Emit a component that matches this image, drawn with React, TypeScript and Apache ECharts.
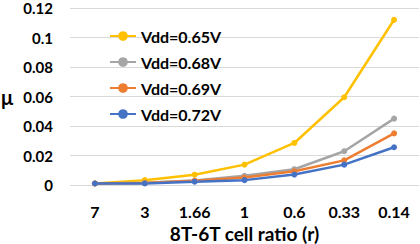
import React, { useEffect, useRef } from "react";
import * as echarts from "echarts";

const categories = ["7", "3", "1.66", "1", "0.6", "0.33", "0.14"];
const seriesNames = ["Vdd=0.65V", "Vdd=0.68V", "Vdd=0.69V", "Vdd=0.72V"];
const vdd065 = [0.0011, 0.0033, 0.007, 0.0138, 0.0285, 0.0595, 0.112];
const vdd068 = [0.001, 0.0015, 0.003, 0.0062, 0.0107, 0.0229, 0.045];
const vdd069 = [0.001, 0.0013, 0.0028, 0.0051, 0.0093, 0.0167, 0.035];
const vdd072 = [0.001, 0.001, 0.0022, 0.0033, 0.0071, 0.0138, 0.0256];
const colors = ["#FFC000", "#A5A5A5", "#ED7D31", "#4472C4"];

export default function App() {
  const ref = useRef<HTMLDivElement>(null);
  useEffect(() => {
    const chart = echarts.init(ref.current!, null, { renderer: "svg" });
    const data = [vdd065, vdd068, vdd069, vdd072];
    const font = "Lato, 'Open Sans', sans-serif";
    chart.setOption({
      animation: false,
      grid: { left: 70, right: 1, top: 8, bottom: 59, containLabel: false, outerBoundsMode: "none" },
      legend: {
        orient: "vertical",
        left: 104,
        top: 23,
        itemWidth: 26,
        itemHeight: 12,
        itemGap: 10,
        data: seriesNames,
        textStyle: { fontFamily: font, fontWeight: "bold", fontSize: 16, color: "#000" },
      },
      xAxis: {
        type: "category",
        data: categories,
        boundaryGap: true,
        axisLine: { show: false },
        axisTick: { show: false },
        axisLabel: { fontFamily: font, fontWeight: "bold", fontSize: 16, color: "#000", margin: 18 },
        name: "8T-6T cell ratio (r)",
        nameLocation: "middle",
        nameGap: 37,
        nameTextStyle: { fontFamily: font, fontWeight: "bold", fontSize: 19, lineHeight: 18, color: "#000" },
      },
      yAxis: {
        type: "value",
        min: 0,
        max: 0.12,
        interval: 0.02,
        axisLine: { show: false },
        axisTick: { show: false },
        splitLine: { lineStyle: { color: "#d9d9d9", width: 1 } },
        axisLabel: { fontFamily: font, fontWeight: "bold", fontSize: 15, lineHeight: 14, color: "#000", margin: 17 },
        name: "μ",
        nameLocation: "middle",
        nameRotate: 0,
        nameGap: 57,
        nameTextStyle: { fontFamily: font, fontWeight: "bold", fontSize: 20, color: "#000" },
      },
      series: seriesNames.map((n, i) => ({
        name: n,
        type: "line",
        data: data[i],
        symbol: "circle",
        symbolSize: 6,
        itemStyle: { color: colors[i] },
        lineStyle: { color: colors[i], width: 2.5 },
      })),
    });
    return () => chart.dispose();
  }, []);
  return <div ref={ref} style={{ width: 420, height: 244, position: "absolute", left: 0, top: 0 }} />;
}
